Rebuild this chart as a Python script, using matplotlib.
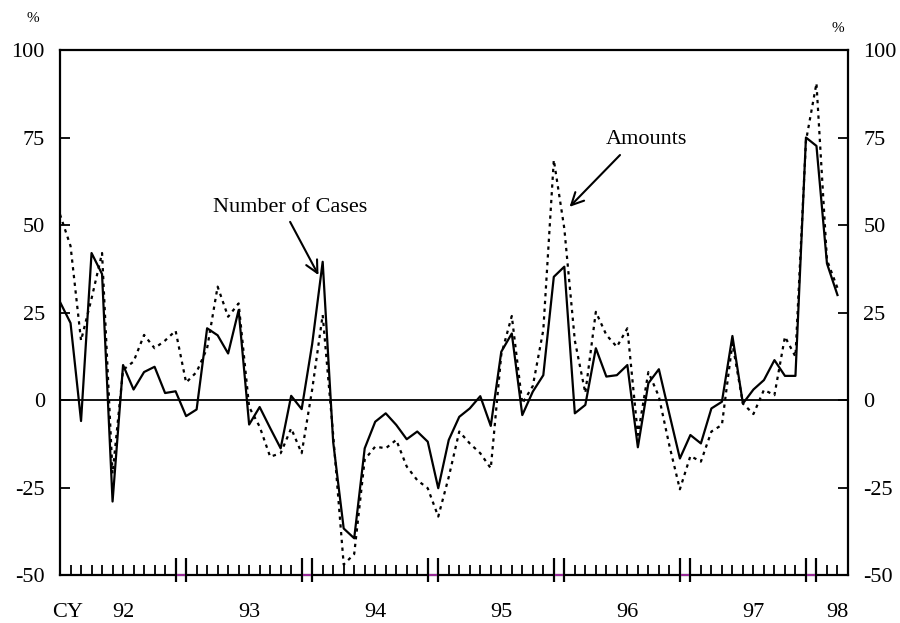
"""Year-on-year change in bankruptcies: number of cases vs. amounts (CY92-98, monthly)."""
import matplotlib.pyplot as plt
import matplotlib.transforms as mtransforms
import numpy as np

plt.rcParams.update({"font.family": ["Liberation Serif", "DejaVu Serif"],
                     "font.size": 16, "axes.unicode_minus": False})

# monthly, Jan 1992 .. Mar 1998 (y/y % change)
cases = [28, 22, -6, 42, 36, -29, 10, 3, 8, 9.5, 2, 2.5,
         -4.6, -2.7, 20.5, 18.5, 13.3, 25.7, -7, -2, -8, -13.8, 1.2, -2.6,
         16, 39.5, -12, -36.7, -39.5, -13.8, -6.2, -3.8, -7.1, -11.2, -9, -11.9,
         -25.2, -11.4, -4.8, -2.4, 1.1, -7.4, 13.8, 19, -4.3, 2.4, 7.1, 35.2,
         38.1, -3.8, -1.4, 14.8, 6.7, 7.1, 10, -13.5, 4.8, 8.8, -4, -16.7,
         -10, -12.4, -2.4, -0.5, 18.3, -1, 3, 5.7, 11.4, 6.9, 6.9, 75,
         72.6, 39, 30]
amounts = [53, 44, 17, 29, 42, -21, 8.6, 11, 18.6, 14.8, 17, 19.8,
           5, 8, 14.8, 32.4, 23.8, 27.6, -2, -7.6, -16.2, -15.2, -8.1, -15.2,
           3, 24.3, -10, -47, -44, -17, -13.3, -13.8, -11.4, -19, -22.9, -25.2,
           -33.3, -22, -9, -12.4, -15.2, -19.5, 13, 24, -1, 4, 20, 68.6,
           49, 17, 2, 25.2, 18.6, 15.2, 20.5, -10, 8, 1, -13, -25.5,
           -16, -17.6, -9, -7.1, 16.2, -1, -4, 2.9, 1.4, 18.1, 12.4, 74,
           90.5, 40, 32]
year_labels = ["92", "93", "94", "95", "96", "97", "98"]
year_pos = [6, 18, 30, 42, 54, 66, 74]
mark_pairs = [11, 23, 35, 47, 59, 71]   # Dec/Jan double marks
yticks = [-50, -25, 0, 25, 50, 75, 100]

fig = plt.figure(figsize=(9, 6.23), dpi=100)
ax = fig.add_axes([0.0667, 0.077, 0.8755, 0.8427])

x = np.arange(len(cases))
ax.plot(x, cases, color="black", lw=1.6, zorder=3)
ax.plot(x, amounts, color="black", lw=1.6, ls=(0, (1.5, 2)), zorder=3)
ax.axhline(0, color="black", lw=1.3, zorder=2)

ax.set_xlim(0, 75)
ax.set_ylim(-50, 100)
for s in ax.spines.values():
    s.set_linewidth(1.6)

ax.set_yticks(yticks)
ax.tick_params(axis="y", direction="in", length=7, width=1.3, pad=11,
               left=True, right=True, labelleft=True, labelright=True)

ax.xaxis.remove_overlapping_locs = False
ax.set_xticks(year_pos, year_labels)
ax.set_xticks(np.arange(0, 76), minor=True)
ax.tick_params(axis="x", which="major", length=0, pad=20)
ax.tick_params(axis="x", which="minor", direction="in", length=7, width=1.3)

trans = mtransforms.blended_transform_factory(ax.transData, ax.transAxes)
for m in mark_pairs:
    ax.vlines([m, m + 1], -0.0133, 0.0324, transform=trans, color="black",
              lw=1.6, clip_on=False, zorder=5)
    ax.hlines(0, m + 0.12, m + 0.88, transform=trans, color="#9a2a9a",
              lw=1.4, clip_on=False, zorder=6)

ax.text(-0.01, -0.072, "CY", transform=ax.transAxes, ha="left", va="center")
fig.text(33 / 900, 1 - 18 / 623, "%", fontsize=11, ha="center", va="center")
fig.text(838 / 900, 1 - 28 / 623, "%", fontsize=11, ha="center", va="center")

arrow = dict(arrowstyle="->", lw=1.5, color="black", shrinkA=0, shrinkB=0,
             mutation_scale=22)
ax.text(21.9, 55.1, "Number of Cases", ha="center", va="center")
ax.annotate("", xy=(24.6, 35.7), xytext=(21.9, 50.9), arrowprops=arrow)
ax.text(55.8, 74.3, "Amounts", ha="center", va="center")
ax.annotate("", xy=(48.5, 55.2), xytext=(53.3, 70.0), arrowprops=arrow)

fig.savefig("out.png", dpi=100)
